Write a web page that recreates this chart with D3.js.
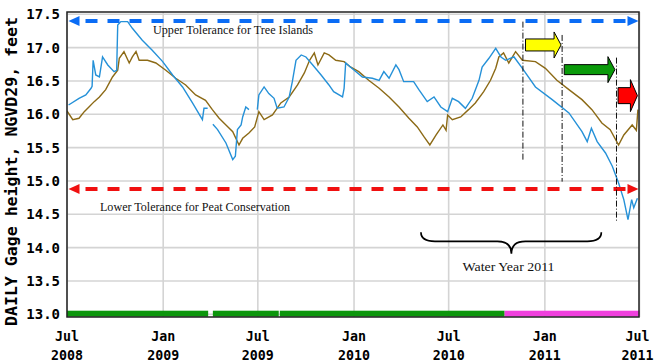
<!DOCTYPE html>
<meta charset="utf-8">
<head>
<style>
body { margin: 0; background: #fff; }
.tick-label { font: bold 14px "DejaVu Sans Mono", monospace; fill: #000; }
.note { font: 13px "Liberation Serif", "Times New Roman", serif; fill: #111; }
</style>
</head>
<body>
<script src="https://cdnjs.cloudflare.com/ajax/libs/d3/7.8.5/d3.min.js"></script>
<script>

// Stage, daily (blue) and comparison (brown) series
const blueDates = ["2008-07-04","2008-07-24","2008-08-06","2008-08-16","2008-08-18","2008-08-20","2008-08-25","2008-09-01","2008-09-07","2008-09-17","2008-09-29","2008-10-04","2008-10-06","2008-10-12","2008-10-25","2008-11-03","2008-11-22","2008-12-11","2008-12-31","2009-01-19","2009-02-07","2009-02-26","2009-03-17","2009-03-20","2009-03-27","2009-04-01","2009-04-06","2009-04-15","2009-05-01","2009-05-14","2009-05-19","2009-05-23","2009-05-30","2009-06-02","2009-06-08","2009-06-14","2009-06-22","2009-06-30","2009-07-03","2009-07-13","2009-07-22","2009-08-01","2009-08-07","2009-08-20","2009-08-30","2009-09-05","2009-09-12","2009-09-22","2009-10-01","2009-10-14","2009-10-30","2009-11-14","2009-11-23","2009-12-10","2009-12-13","2009-12-16","2009-12-25","2010-01-17","2010-02-05","2010-02-18","2010-02-27","2010-03-09","2010-03-22","2010-03-28","2010-04-06","2010-04-25","2010-05-05","2010-05-21","2010-06-03","2010-06-16","2010-06-29","2010-07-08","2010-07-20","2010-08-02","2010-08-15","2010-08-28","2010-09-03","2010-09-16","2010-09-29","2010-10-09","2010-10-18","2010-11-03","2010-11-19","2010-12-14","2011-01-15","2011-02-16","2011-03-13","2011-03-23","2011-03-31","2011-04-11","2011-04-27","2011-05-10","2011-05-22","2011-06-01","2011-06-09","2011-06-16","2011-06-20","2011-06-27"];
const blueValues = [16.14,16.24,16.29,16.39,16.42,16.81,16.59,16.56,16.86,16.74,16.64,16.66,17.34,17.39,17.39,17.29,17.11,16.96,16.79,16.59,16.41,16.17,15.92,16.09,16.09,null,15.85,15.77,15.57,15.32,15.37,15.77,15.84,15.96,16.11,16.07,null,16.07,16.29,16.41,16.31,16.24,16.09,16.11,16.26,16.49,16.81,16.89,16.86,16.74,16.59,16.44,16.34,16.26,16.39,16.77,16.71,16.56,16.54,16.51,16.64,16.54,16.74,16.67,16.49,16.49,16.37,16.19,16.26,16.11,16.04,16.24,16.19,16.09,16.24,16.51,16.71,16.84,16.99,16.86,16.81,16.86,16.69,16.41,16.22,16.02,15.74,15.59,15.79,15.59,15.42,15.22,14.97,14.72,14.42,14.72,14.60,14.74];

const brownDates = ["2008-07-01","2008-07-12","2008-07-24","2008-08-03","2008-08-12","2008-08-22","2008-09-01","2008-09-13","2008-09-26","2008-10-06","2008-10-09","2008-10-18","2008-10-28","2008-11-03","2008-11-10","2008-11-16","2008-12-02","2008-12-18","2009-01-06","2009-01-25","2009-02-13","2009-03-04","2009-03-23","2009-04-05","2009-04-18","2009-05-01","2009-05-14","2009-05-26","2009-06-02","2009-06-14","2009-06-25","2009-07-03","2009-07-13","2009-07-29","2009-08-14","2009-08-30","2009-09-15","2009-09-28","2009-10-08","2009-10-17","2009-10-24","2009-11-05","2009-11-14","2009-11-27","2009-12-13","2009-12-25","2010-01-10","2010-01-29","2010-02-18","2010-03-09","2010-03-28","2010-04-16","2010-05-02","2010-05-15","2010-05-26","2010-06-07","2010-06-20","2010-06-26","2010-06-29","2010-07-08","2010-07-24","2010-08-08","2010-08-21","2010-09-06","2010-09-19","2010-09-29","2010-10-05","2010-10-14","2010-10-24","2010-11-06","2010-11-19","2010-12-14","2011-01-02","2011-01-24","2011-02-16","2011-03-13","2011-04-01","2011-04-20","2011-05-06","2011-05-22","2011-06-01","2011-06-17","2011-06-25","2011-06-28"];
const brownValues = [16.05,15.92,15.94,16.04,16.11,16.19,16.26,16.37,16.56,16.66,16.84,16.94,16.77,16.86,16.94,16.81,16.81,16.77,16.66,16.54,16.44,16.29,16.21,16.07,15.94,15.84,15.74,15.54,15.64,15.72,15.81,16.04,15.92,15.99,16.17,16.26,16.44,16.62,16.81,16.92,16.74,16.92,16.89,16.81,16.79,16.71,16.64,16.51,16.39,16.26,16.11,15.94,15.81,15.66,15.54,15.69,15.84,15.76,15.99,15.92,15.96,16.07,16.17,16.34,16.51,16.69,16.86,16.92,16.77,16.94,16.81,16.79,16.69,16.51,16.37,16.22,16.07,15.87,15.77,15.54,15.69,15.84,15.76,16.07];

// data-status strip along the bottom
const statusStart = ["2008-07-01","2009-04-06","2009-08-12","2010-10-16"];
const statusEnd   = ["2009-03-28","2009-08-10","2010-10-16","2011-07-01"];
const statusKind  = ["approved","approved","approved","provisional"];

// tolerances (feet)
const upperTolerance = 17.40;
const lowerTolerance = 14.88;

const yTicks = [13.0,13.5,14.0,14.5,15.0,15.5,16.0,16.5,17.0,17.5];
const xTickDates = ["2008-07-01","2009-01-01","2009-07-01","2010-01-01","2010-07-01","2011-01-01","2011-07-01"];

// water year markers and arrows
const markerDates = ["2010-11-20","2011-02-03","2011-05-18"];
const markerTop = [17.39,17.19,16.85];
const markerBottom = [15.32,14.99,14.39];
const arrowFrom = ["2010-11-25","2011-02-07","2011-05-21"];
const arrowTo   = ["2011-02-01","2011-05-15","2011-06-27"];
const arrowLevel = [17.04,16.67,16.28];
const arrowColor = ["#ffff00","#0a9a0a","#ff0000"];

const parse = d3.timeParse("%Y-%m-%d");

const W = 654, H = 364;
const x = d3.scaleTime()
  .domain([parse("2008-07-01"), parse("2011-07-01")])
  .range([67, 639.5]);
const y = d3.scaleLinear().domain([13, 17.5]).range([314.3, 14.3]);

const frame = {left: 67, right: 639, top: 12, bottom: 317};

const svg = d3.select("body").append("svg")
  .attr("width", W).attr("height", H);

svg.append("defs").append("clipPath").attr("id", "plot")
  .append("rect")
  .attr("x", frame.left).attr("y", frame.top)
  .attr("width", frame.right - frame.left).attr("height", frame.bottom - frame.top);

// grid
const grid = svg.append("g");
grid.selectAll("line.h").data(yTicks).join("line")
  .attr("x1", frame.left).attr("x2", frame.right)
  .attr("y1", d => y(d)).attr("y2", d => y(d))
  .attr("stroke", "#d4d4d4").attr("stroke-width", 1.6);
grid.selectAll("line.v").data(xTickDates).join("line")
  .attr("x1", d => x(parse(d))).attr("x2", d => x(parse(d)))
  .attr("y1", frame.top).attr("y2", frame.bottom)
  .attr("stroke", "#d4d4d4").attr("stroke-width", 1.6);

// status strip
svg.append("g").selectAll("rect").data(statusKind).join("rect")
  .attr("x", (d, i) => x(parse(statusStart[i])))
  .attr("width", (d, i) => x(parse(statusEnd[i])) - x(parse(statusStart[i])))
  .attr("y", 310.7).attr("height", 6)
  .attr("fill", d => d === "approved" ? "#0c960c" : "#f040de");

const plot = svg.append("g").attr("clip-path", "url(#plot)");

const line = d3.line()
  .defined(d => d.v !== null)
  .x(d => x(d.t))
  .y(d => y(d.v));

const brown = brownDates.map((d, i) => ({t: parse(d), v: brownValues[i]}));
const blue = blueDates.map((d, i) => ({t: parse(d), v: blueValues[i]}));

plot.append("path").datum(brown)
  .attr("d", line).attr("fill", "none")
  .attr("stroke", "#8c6a16").attr("stroke-width", 1.4);
plot.append("path").datum(blue)
  .attr("d", line).attr("fill", "none")
  .attr("stroke", "#2591d8").attr("stroke-width", 1.4);

// tolerance lines with arrowheads at both ends
function tolerance(level, color) {
  const yy = y(level), x0 = 68.5, x1 = 638.5, hl = 11, hw = 5;
  plot.append("line")
    .attr("x1", x0 + hl).attr("x2", x1 - hl)
    .attr("y1", yy).attr("y2", yy)
    .attr("stroke", color).attr("stroke-width", 4)
    .attr("stroke-dasharray", "12,10").attr("stroke-dashoffset", -6);
  plot.append("path")
    .attr("d", `M${x0},${yy}L${x0 + hl},${yy - hw}L${x0 + hl},${yy + hw}Z`)
    .attr("fill", color);
  plot.append("path")
    .attr("d", `M${x1},${yy}L${x1 - hl},${yy - hw}L${x1 - hl},${yy + hw}Z`)
    .attr("fill", color);
}
tolerance(upperTolerance, "#0a6cf5");
tolerance(lowerTolerance, "#f01010");

svg.append("text").attr("class", "note")
  .attr("x", 153).attr("y", 34)
  .attr("textLength", 160).attr("lengthAdjust", "spacingAndGlyphs")
  .text("Upper Tolerance for Tree Islands");
svg.append("text").attr("class", "note")
  .attr("x", 100).attr("y", 211)
  .attr("textLength", 190).attr("lengthAdjust", "spacingAndGlyphs")
  .text("Lower Tolerance for Peat Conservation");

// vertical dash-dot markers
plot.selectAll("line.marker").data(markerDates).join("line")
  .attr("x1", d => x(parse(d))).attr("x2", d => x(parse(d)))
  .attr("y1", (d, i) => y(markerTop[i])).attr("y2", (d, i) => y(markerBottom[i]))
  .attr("stroke", "#111").attr("stroke-width", 1)
  .attr("stroke-dasharray", "6,2,1,2");

// block arrows
const bodyHalf = [6, 5, 8], headHalf = [13, 13, 16], headLen = 7;
plot.selectAll("path.arrow").data(arrowColor).join("path")
  .attr("d", (d, i) => {
    const a = x(parse(arrowFrom[i])), t = x(parse(arrowTo[i])), c = y(arrowLevel[i]);
    const h = t - headLen, b = bodyHalf[i], hh = headHalf[i];
    return `M${a},${c - b}L${h},${c - b}L${h},${c - hh}L${t},${c}L${h},${c + hh}L${h},${c + b}L${a},${c + b}Z`;
  })
  .attr("fill", d => d)
  .attr("stroke", "#000").attr("stroke-width", 1);

// curly brace for the water year
{
  const L = x(parse("2010-05-09")), R = x(parse("2011-04-19")), M = x(parse("2010-10-29"));
  const top = y(14.23), arm = top + 9, tip = y(13.91);
  const p = `M${L},${top}Q${L},${arm} ${L + 14},${arm}L${M - 14},${arm}Q${M},${arm} ${M},${tip}` +
            `Q${M},${arm} ${M + 14},${arm}L${R - 14},${arm}Q${R},${arm} ${R},${top}`;
  svg.append("path").attr("d", p).attr("fill", "none")
    .attr("stroke", "#000").attr("stroke-width", 1.7);
  svg.append("text").attr("class", "note")
    .attr("x", 462.5).attr("y", 271)
    .attr("textLength", 92).attr("lengthAdjust", "spacingAndGlyphs")
    .text("Water Year 2011");
}

// frame
svg.append("rect")
  .attr("x", frame.left).attr("y", frame.top)
  .attr("width", frame.right - frame.left).attr("height", frame.bottom - frame.top)
  .attr("fill", "none").attr("stroke", "#222").attr("stroke-width", 1.5);

// y tick labels
svg.append("g").selectAll("text").data(yTicks).join("text")
  .attr("class", "tick-label")
  .attr("x", 60).attr("y", d => y(d)).attr("dy", "0.36em")
  .attr("text-anchor", "end")
  .text(d => d.toFixed(1));

// x tick labels (two lines), last one nudged in so it stays on the page
const fmtMon = d3.timeFormat("%b"), fmtYear = d3.timeFormat("%Y");
const xl = svg.append("g").selectAll("g").data(xTickDates).join("g")
  .attr("transform", (d, i) => `translate(${Math.min(x(parse(d)), 637.5)},0)`);
xl.append("text").attr("class", "tick-label").attr("text-anchor", "middle")
  .attr("y", 341).attr("textLength", 24).attr("lengthAdjust", "spacingAndGlyphs")
  .text(d => fmtMon(parse(d)));
xl.append("text").attr("class", "tick-label").attr("text-anchor", "middle")
  .attr("y", 360).attr("textLength", 32).attr("lengthAdjust", "spacingAndGlyphs")
  .text(d => fmtYear(parse(d)));

// y axis title
svg.append("text").attr("class", "tick-label")
  .attr("transform", "translate(17,171.5) rotate(-90)")
  .attr("text-anchor", "middle")
  .attr("textLength", 309).attr("lengthAdjust", "spacingAndGlyphs")
  .style("font-size", "15px")
  .text("DAILY Gage height, NGVD29, feet");

</script>
</body>
